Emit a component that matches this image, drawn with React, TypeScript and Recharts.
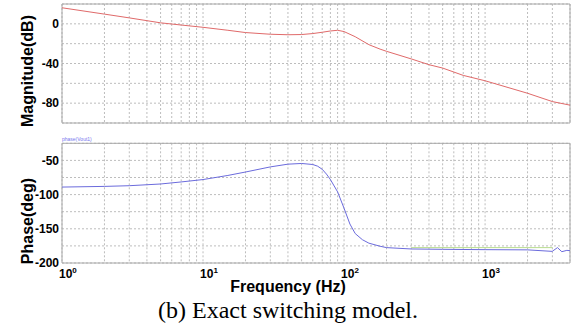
import { CartesianGrid, Line, LineChart, ReferenceArea, XAxis, YAxis } from "recharts";

// magnitude trace (dB)
const magFreq = [1, 2, 3, 5, 7, 10, 15, 20, 30, 40, 50, 60, 70, 80, 90, 100, 120, 150, 180, 200, 300, 400, 500, 700, 1000, 2000, 3000, 4000];
const magDb = [16.2, 9.8, 6, 1, -1.2, -3.5, -6.5, -8.8, -10.5, -11, -10.8, -9.8, -8.5, -7.2, -6.5, -7.8, -13, -21, -25.5, -27.7, -35.4, -41.2, -44.6, -52, -57.4, -70, -78.4, -82];

// phase trace (deg)
const phaseFreq = [1, 2, 3, 5, 7, 10, 15, 20, 30, 40, 50, 60, 65, 70, 75, 80, 90, 100, 110, 120, 135, 150, 180, 200, 300, 500, 1000, 2000, 2990, 3260, 3500, 3800, 4000];
const phaseDeg = [-89, -88, -87, -84.5, -81.5, -78, -72, -67, -59.5, -55.5, -54.5, -56, -58.5, -63, -70, -78, -96, -120, -143, -157, -166, -171, -175.5, -177.5, -179.5, -180, -180.5, -180.8, -183, -177.5, -183.5, -181.5, -182];

// faint green reference trace
const refFreq = [300, 600, 1000, 2000, 3000];
const refDeg = [-177.5, -177.5, -177.5, -177.5, -177.5];

const gridFreqs = [1, 2, 3, 4, 5, 6, 7, 8, 9, 10, 20, 30, 40, 50, 60, 70, 80, 90, 100, 200, 300, 400, 500, 600, 700, 800, 900, 1000, 2000, 3000];
const decadeExp: Record<number, string> = { 1: "0", 10: "1", 100: "2", 1000: "3" };

const magTicks = [-100, -80, -60, -40, -20, 0, 20];
const magLabels = [0, -40, -80];
const phaseTicks = [-200, -175, -150, -125, -100, -75, -50, -25];
const phaseLabels = [-50, -100, -150, -200];

const magData = magFreq.map((f, i) => ({ f, v: magDb[i] }));
const phaseData = phaseFreq.map((f, i) => ({ f, v: phaseDeg[i] }));
const refData = refFreq.map((f, i) => ({ f, v: refDeg[i] }));

const tickFont = { fontFamily: "Liberation Sans, Arial, sans-serif", fontWeight: 700, fontSize: 12, fill: "#000" };
const gridColor = "#bdbdbd";
const borderColor = "#a8a8a8";

function yTick(labels: number[]) {
  return (props: any) => {
    const { x, y, payload } = props;
    if (!labels.includes(payload.value)) return <g />;
    return (
      <text x={x} y={y} dy="0.36em" textAnchor="end" {...tickFont}>
        {payload.value}
      </text>
    );
  };
}

function xTick(props: any) {
  const { x, y, payload } = props;
  const exp = decadeExp[payload.value];
  if (!exp) return <g />;
  return (
    <text x={x - 3} y={y + 15} textAnchor="start" {...tickFont}>
      10
      <tspan dy={-5} fontSize={8}>
        {exp}
      </tspan>
    </text>
  );
}

const noTick = () => <g />;

export default function App() {
  return (
    <div style={{ position: "absolute", left: 0, top: 0, width: 571, height: 332, background: "#fff" }}>
      <div style={{ position: "absolute", left: 0, top: 0 }}>
        <LineChart width={571} height={124} data={magData} margin={{ top: 4, right: 1, bottom: 0, left: 0 }}>
          <CartesianGrid stroke={gridColor} strokeDasharray="2 2" />
          <XAxis
            dataKey="f"
            type="number"
            scale="log"
            domain={[1, 4000]}
            ticks={gridFreqs}
            interval={0}
            allowDataOverflow
            height={1}
            axisLine={false}
            tickLine={false}
            tick={noTick}
          />
          <YAxis
            type="number"
            domain={[-100, 20]}
            ticks={magTicks}
            interval={0}
            allowDataOverflow
            width={62}
            axisLine={false}
            tickLine={false}
            tickSize={0}
            tickMargin={3}
            tick={yTick(magLabels)}
          />
          <ReferenceArea x1={1} x2={4000} y1={-100} y2={20} fill="none" stroke={borderColor} strokeWidth={1} />
          <Line dataKey="v" stroke="#e06a6a" strokeWidth={1} dot={false} isAnimationActive={false} />
        </LineChart>
      </div>
      <div style={{ position: "absolute", left: 0, top: 140 }}>
        <LineChart width={571} height={143} margin={{ top: 3.3, right: 1, bottom: 0, left: 0 }}>
          <CartesianGrid stroke={gridColor} strokeDasharray="2 2" />
          <XAxis
            dataKey="f"
            type="number"
            scale="log"
            domain={[1, 4000]}
            ticks={gridFreqs}
            interval={0}
            allowDataOverflow
            height={20}
            axisLine={false}
            tickLine={false}
            tickSize={0}
            tickMargin={0}
            tick={xTick}
          />
          <YAxis
            type="number"
            domain={[-200, -25]}
            ticks={phaseTicks}
            interval={0}
            allowDataOverflow
            width={62}
            axisLine={false}
            tickLine={false}
            tickSize={0}
            tickMargin={3}
            tick={yTick(phaseLabels)}
          />
          <ReferenceArea x1={1} x2={4000} y1={-200} y2={-25} fill="none" stroke={borderColor} strokeWidth={1} />
          <Line data={refData} dataKey="v" stroke="#b9dd8f" strokeWidth={1} dot={false} isAnimationActive={false} />
          <Line data={phaseData} dataKey="v" stroke="#6b6bdc" strokeWidth={1} dot={false} isAnimationActive={false} />
        </LineChart>
      </div>
      <svg width={571} height={332} style={{ position: "absolute", left: 0, top: 0, pointerEvents: "none" }}>
        <text
          x={33}
          y={71}
          transform="rotate(-90, 33, 71)"
          textAnchor="middle"
          fontFamily="Liberation Sans, Arial, sans-serif"
          fontWeight={700}
          fontSize={16}
        >
          Magnitude(dB)
        </text>
        <text
          x={33}
          y={221}
          transform="rotate(-90, 33, 221)"
          textAnchor="middle"
          fontFamily="Liberation Sans, Arial, sans-serif"
          fontWeight={700}
          fontSize={16}
        >
          Phase(deg)
        </text>
        <text x={62} y={141} fontFamily="Liberation Sans, Arial, sans-serif" fontSize={5} fill="#7777ee">
          phase(Vout1)
        </text>
        <text x={288} y={292} textAnchor="middle" fontFamily="Liberation Sans, Arial, sans-serif" fontWeight={700} fontSize={16}>
          Frequency (Hz)
        </text>
        <text x={288} y={318} textAnchor="middle" fontFamily="Liberation Serif, Times New Roman, serif" fontSize={24}>
          (b) Exact switching model.
        </text>
      </svg>
    </div>
  );
}
